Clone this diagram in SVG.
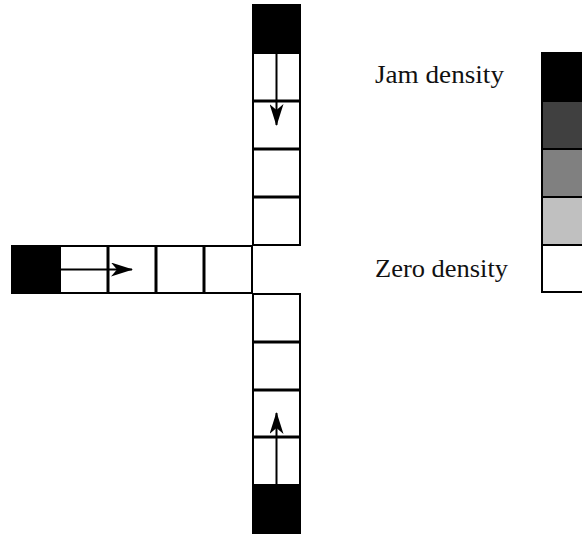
<svg xmlns="http://www.w3.org/2000/svg" width="582" height="535" viewBox="0 0 582 535">
<defs>
<style>
.cell{fill:#fff;stroke:#000;stroke-width:2}
.jam{fill:#000;stroke:#000;stroke-width:2}
.div{stroke:#000;stroke-width:3}
.arr{stroke:#000;stroke-width:2;fill:none}
.lbl{font-family:"Liberation Serif","Times New Roman",serif;font-size:24.5px;fill:#111}
</style>
<marker id="ah2" viewBox="0 0 22 14" refX="21" refY="7" markerWidth="22" markerHeight="14" markerUnits="userSpaceOnUse" orient="auto">
<path d="M0,0 L22,7 L0,14 L6,7 Z" fill="#000"/>
</marker>
</defs>
<rect width="582" height="535" fill="#fff"/>
<g id="road-north">
<rect class="cell" x="253" y="5" width="47" height="240"/>
<rect class="jam" x="253" y="5" width="47" height="48"/>
<line class="div" x1="253" y1="101" x2="300" y2="101"/>
<line class="div" x1="253" y1="149" x2="300" y2="149"/>
<line class="div" x1="253" y1="197" x2="300" y2="197"/>
</g>
<g id="road-west">
<rect class="cell" x="12" y="246" width="240" height="47"/>
<rect class="jam" x="12" y="246" width="48" height="47"/>
<line class="div" x1="108" y1="246" x2="108" y2="293"/>
<line class="div" x1="156" y1="246" x2="156" y2="293"/>
<line class="div" x1="204" y1="246" x2="204" y2="293"/>
</g>
<g id="road-south">
<rect class="cell" x="253" y="294" width="47" height="239"/>
<rect class="jam" x="253" y="485" width="47" height="48"/>
<line class="div" x1="253" y1="342" x2="300" y2="342"/>
<line class="div" x1="253" y1="390" x2="300" y2="390"/>
<line class="div" x1="253" y1="437" x2="300" y2="437"/>
</g>
<g id="legend">
<rect x="542" y="53" width="50" height="48" fill="#000" stroke="#000" stroke-width="2"/>
<rect x="542" y="101" width="50" height="48" fill="#404040" stroke="#000" stroke-width="2"/>
<rect x="542" y="149" width="50" height="48" fill="#808080" stroke="#000" stroke-width="2"/>
<rect x="542" y="197" width="50" height="48" fill="#c0c0c0" stroke="#000" stroke-width="2"/>
<rect x="542" y="245" width="50" height="47" fill="#fff" stroke="#000" stroke-width="2"/>
<text class="lbl" x="375" y="82.5" textLength="129" lengthAdjust="spacingAndGlyphs">Jam density</text>
<text class="lbl" x="375" y="276.5" textLength="133" lengthAdjust="spacingAndGlyphs">Zero density</text>
</g>
<g id="connectors">
<line class="arr" x1="276.5" y1="53" x2="276.5" y2="125" marker-end="url(#ah2)"/>
<line class="arr" x1="60" y1="269.5" x2="132" y2="269.5" marker-end="url(#ah2)"/>
<line class="arr" x1="276.5" y1="485" x2="276.5" y2="413" marker-end="url(#ah2)"/>
</g>
</svg>
